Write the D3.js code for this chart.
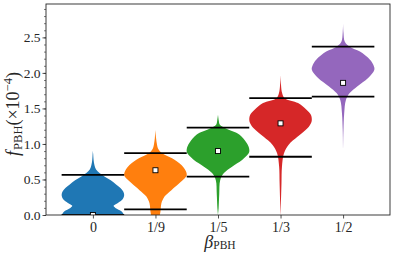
<!DOCTYPE html>
<html><head><meta charset="utf-8">
<script src="https://cdn.jsdelivr.net/npm/d3@7"></script>
<style>body{margin:0;background:#fff}svg{display:block}</style>
</head><body><svg id="c" width="395" height="256"></svg>
<script>
// ---- data ----
const categories = ["0", "1/9", "1/5", "1/3", "1/2"];
const colors = ["#1f77b4", "#ff7f0e", "#2ca02c", "#d62728", "#9467bd"];
const means = [0.0, 0.63, 0.90, 1.29, 1.86];
const lowerBounds = [0.0, 0.08, 0.54, 0.82, 1.665];
const upperBounds = [0.565, 0.87, 1.23, 1.645, 2.37];
const yTicks = [0.0, 0.5, 1.0, 1.5, 2.0, 2.5];

// violin profiles: value grid and relative half-width
const violin0Values = [0.0, 0.05, 0.10, 0.13, 0.17, 0.22, 0.28, 0.33, 0.38, 0.43, 0.49, 0.54, 0.59, 0.64, 0.70, 0.78, 0.85, 0.90];
const violin0Widths = [1.0, 0.92, 0.72, 0.66, 0.80, 0.95, 1.0, 0.97, 0.88, 0.74, 0.57, 0.38, 0.21, 0.10, 0.05, 0.02, 0.01, 0.0];
const violin1Values = [0.0, 0.05, 0.10, 0.165, 0.26, 0.35, 0.45, 0.51, 0.56, 0.62, 0.705, 0.80, 0.87, 0.93, 0.99, 1.08, 1.20];
const violin1Widths = [0.14, 0.16, 0.17, 0.19, 0.29, 0.51, 0.77, 0.92, 1.0, 0.97, 0.83, 0.53, 0.21, 0.09, 0.05, 0.02, 0.0];
const violin2Values = [0.0, 0.10, 0.30, 0.49, 0.59, 0.68, 0.775, 0.85, 0.89, 0.96, 1.03, 1.13, 1.22, 1.27, 1.33, 1.41];
const violin2Widths = [0.0, 0.02, 0.04, 0.07, 0.19, 0.45, 0.77, 0.95, 1.0, 0.98, 0.89, 0.69, 0.24, 0.06, 0.025, 0.0];
const violin3Values = [0.0, 0.17, 0.45, 0.68, 0.87, 0.99, 1.10, 1.22, 1.30, 1.34, 1.41, 1.48, 1.575, 1.645, 1.716, 1.83, 1.97];
const violin3Widths = [0.0, 0.012, 0.03, 0.045, 0.11, 0.26, 0.54, 0.86, 0.98, 1.0, 0.97, 0.83, 0.56, 0.13, 0.05, 0.015, 0.0];
const violin4Values = [0.9, 1.2, 1.43, 1.62, 1.716, 1.81, 1.93, 2.045, 2.11, 2.185, 2.30, 2.37, 2.44, 2.57, 2.70];
const violin4Widths = [0.0, 0.012, 0.035, 0.09, 0.21, 0.45, 0.80, 1.0, 0.97, 0.86, 0.54, 0.21, 0.055, 0.012, 0.0];
const violinValues = [violin0Values, violin1Values, violin2Values, violin3Values, violin4Values];
const violinWidths = [violin0Widths, violin1Widths, violin2Widths, violin3Widths, violin4Widths];

// ---- layout ----
const svg = d3.select("#c");
const L = 46, R = 390, T = 4, B = 215;
const x = d3.scaleLinear().domain([-0.75, 4.75]).range([L, R]);
const y = d3.scaleLinear().domain([0, 2.97]).range([B, T]);
const halfW = 0.5; // in category units
const ink = "#262626";
const FONT = '"Liberation Serif", serif';

svg.append("defs").append("clipPath").attr("id", "clip")
  .append("rect").attr("x", L).attr("y", T).attr("width", R - L).attr("height", B - T);

const plot = svg.append("g").attr("clip-path", "url(#clip)");

categories.forEach((c, i) => {
  const pts = violinValues[i].map((v, k) => ({v, w: violinWidths[i][k]}));
  const area = d3.area()
    .y(d => y(d.v))
    .x0(d => x(i - d.w * halfW))
    .x1(d => x(i + d.w * halfW))
    .curve(d3.curveCatmullRom.alpha(0.5));
  plot.append("path").attr("d", area(pts)).attr("fill", colors[i]);
});

categories.forEach((c, i) => {
  [lowerBounds[i], upperBounds[i]].forEach(v => {
    plot.append("line")
      .attr("x1", x(i - 0.5)).attr("x2", x(i + 0.5))
      .attr("y1", y(v)).attr("y2", y(v))
      .attr("stroke", "#000").attr("stroke-width", 1.8);
  });
});

categories.forEach((c, i) => {
  plot.append("rect")
    .attr("x", x(i) - 2.5).attr("y", y(means[i]) - 2.5)
    .attr("width", 5).attr("height", 5)
    .attr("fill", "#fff").attr("stroke", "#000").attr("stroke-width", 0.9);
});

// ---- axes ----
const yMinor = d3.range(0, 30).map(k => k / 10).filter(v => v <= 2.97);
const gMinor = svg.append("g").attr("transform", `translate(${L},0)`)
  .call(d3.axisLeft(y).tickValues(yMinor).tickSize(2).tickFormat(""));
gMinor.select(".domain").remove();
gMinor.selectAll("text").remove();
gMinor.selectAll("line").attr("stroke", ink).attr("stroke-width", 0.6);

const gy = svg.append("g").attr("transform", `translate(${L},0)`)
  .call(d3.axisLeft(y).tickValues(yTicks).tickSize(3.5).tickPadding(2).tickFormat(d3.format(".1f")));
gy.select(".domain").remove();
gy.selectAll("line").attr("stroke", ink).attr("stroke-width", 0.8);
gy.selectAll("text").style("font-family", FONT).style("font-size", "13.5px").attr("fill", ink);

const gx = svg.append("g").attr("transform", `translate(0,${B})`)
  .call(d3.axisBottom(x).tickValues(d3.range(categories.length)).tickSize(3.5).tickPadding(3.5)
    .tickFormat(i => categories[i]));
gx.select(".domain").remove();
gx.selectAll("line").attr("stroke", ink).attr("stroke-width", 0.8);
gx.selectAll("text").style("font-family", FONT).style("font-size", "14px").attr("fill", ink);

svg.append("rect").attr("x", L).attr("y", T).attr("width", R - L).attr("height", B - T)
  .attr("fill", "none").attr("stroke", ink).attr("stroke-width", 0.9);

// ---- labels ----
const yl = svg.append("text")
  .attr("transform", "translate(19,114) rotate(-90)")
  .attr("text-anchor", "middle").style("font-family", FONT).style("font-size", "18px").attr("fill", ink);
yl.append("tspan").style("font-style", "italic").text("f");
yl.append("tspan").style("font-size", "12.5px").attr("dx", 1).attr("dy", 3).text("PBH");
yl.append("tspan").attr("dy", -3).text("(×10");
yl.append("tspan").style("font-size", "12.5px").attr("dy", -7).text("−4");
yl.append("tspan").attr("dy", 7).text(")");

const xl = svg.append("text")
  .attr("x", 220).attr("y", 248)
  .attr("text-anchor", "middle").style("font-family", FONT).style("font-size", "18px").attr("fill", ink);
xl.append("tspan").style("font-style", "italic").text("β");
xl.append("tspan").style("font-size", "11.5px").attr("dy", 1).text("PBH");
</script>
</body></html>
